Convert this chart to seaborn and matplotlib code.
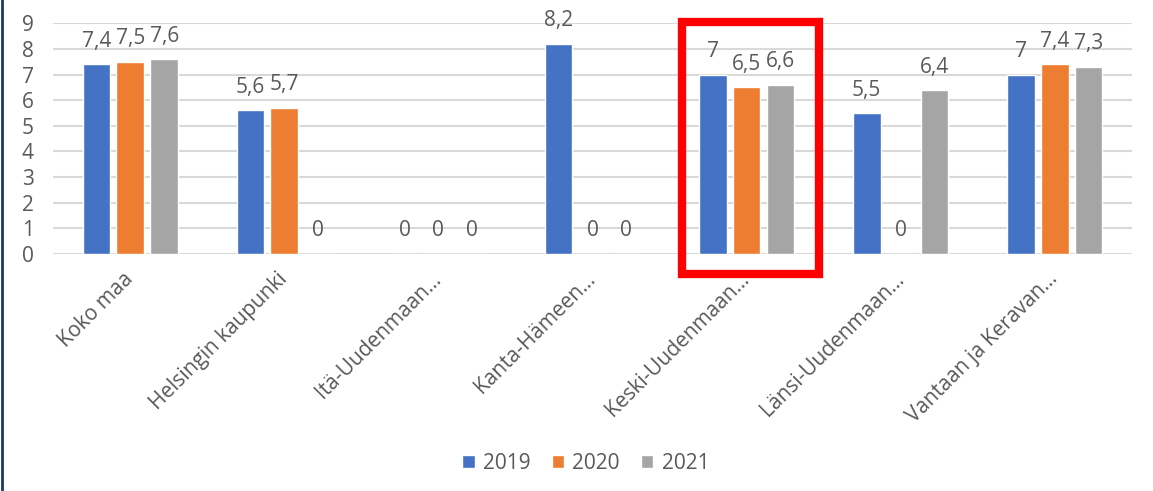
import matplotlib
matplotlib.use("Agg")
import matplotlib.pyplot as plt
import seaborn as sns
import pandas as pd
from matplotlib.patches import Rectangle
from matplotlib.lines import Line2D

categories = ["Koko maa", "Helsingin kaupunki", "Itä-Uudenmaan…", "Kanta-Hämeen…",
              "Keski-Uudenmaan…", "Länsi-Uudenmaan…", "Vantaan ja Keravan…"]
years = ["2019", "2020", "2021"]
v2019 = [7.4, 5.6, 0, 8.2, 7.0, 5.5, 7.0]
v2020 = [7.5, 5.7, 0, 0, 6.5, 0, 7.4]
v2021 = [7.6, 0, 0, 0, 6.6, 6.4, 7.3]
y_ticks = [0, 1, 2, 3, 4, 5, 6, 7, 8, 9]

colors = ["#4472C4", "#ED7D31", "#A5A5A5"]
text_col = "#595959"
fs = 15

rows = []
for yr, vals in zip(years, [v2019, v2020, v2021]):
    for c, v in zip(categories, vals):
        rows.append({"cat": c, "year": yr, "value": v})
df = pd.DataFrame(rows)

sns.set_theme(style="white")
plt.rcParams["font.family"] = ["Open Sans", "DejaVu Sans"]

fig = plt.figure(figsize=(11.53, 4.91), dpi=100)
ax = fig.add_axes([0.0462, 0.4833, 0.9353, 0.4692])

sns.barplot(data=df, x="cat", y="value", hue="year", order=categories,
            hue_order=years, palette=colors, width=0.66, gap=0.18,
            saturation=1, errorbar=None, ax=ax, legend=True)

ax.set_ylim(0, 9)
ax.set_xlim(-0.5, len(categories) - 0.5)
ax.set_yticks(y_ticks)
ax.yaxis.grid(True, color="#D9D9D9", linewidth=1.5)
ax.set_axisbelow(True)
for s in ax.spines.values():
    s.set_visible(False)
ax.set_xlabel("")
ax.set_ylabel("")
ax.tick_params(axis="y", length=0, pad=14, labelsize=fs, labelcolor=text_col)
ax.tick_params(axis="x", length=0, pad=16, labelsize=fs, labelcolor=text_col)
for lab in ax.get_xticklabels():
    lab.set_rotation(45)
    lab.set_ha("right")
    lab.set_va("center")
    lab.set_rotation_mode("anchor")

for cont in ax.containers:
    for bar in cont:
        h = bar.get_height()
        lbl = f"{h:g}".replace(".", ",")
        ax.annotate(lbl, (bar.get_x() + bar.get_width() / 2, h),
                    xytext=(0, 12.5), textcoords="offset points",
                    ha="center", va="baseline", fontsize=fs, color=text_col)

leg = ax.get_legend()
handles = leg.legend_handles
leg.remove()
fig.legend(handles, years, loc="center", bbox_to_anchor=(0.508, 0.057), ncol=3,
           frameon=False, fontsize=fs, labelcolor=text_col, handlelength=0.6,
           handleheight=0.6, handletextpad=0.4, columnspacing=1.0)

# highlight box around Keski-Uudenmaan group
rect = Rectangle((3.58, -0.78), 0.89, 9.84, fill=False, edgecolor="#FF0000",
                 linewidth=6, clip_on=False)
ax.add_patch(rect)

# slide border at left
fig.add_artist(Line2D([0.0017, 0.0017], [0, 1], transform=fig.transFigure,
                      color="#1F3864", linewidth=2))

fig.savefig("out.png", dpi=100, facecolor="white")
